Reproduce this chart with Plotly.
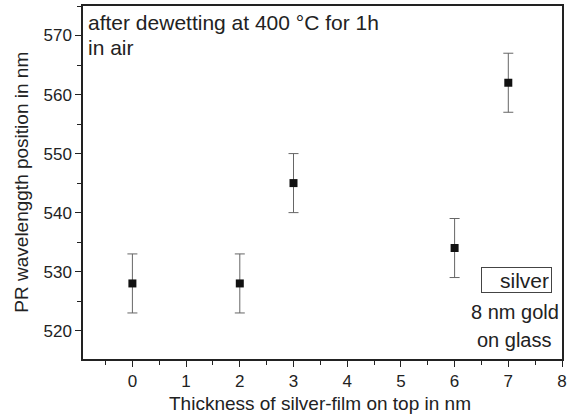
import plotly.graph_objects as go

thickness = [0, 2, 3, 6, 7]
pr_position = [528, 528, 545, 534, 562]
pr_error = [5, 5, 5, 5, 5]

x_ticks = [0, 1, 2, 3, 4, 5, 6, 7, 8]
y_ticks = [520, 530, 540, 550, 560, 570]

FONT = "Liberation Sans, Arial, sans-serif"
L, R, T, B = 83, 3, 6, 57
W, H = 570, 416
pw = W - L - R
ph = H - T - B

def px(xp):
    return (xp - L) / pw

def py(yp):
    return (H - B - yp) / ph

fig = go.Figure()
fig.add_trace(go.Scatter(
    x=thickness, y=pr_position, mode="markers",
    marker=dict(symbol="square", size=8, color="#111111"),
    error_y=dict(type="data", array=pr_error, visible=True,
                 color="#666666", thickness=1, width=5),
    showlegend=False,
))

axis_common = dict(
    showline=True, linecolor="#222222", linewidth=1.5, mirror=True,
    ticks="outside", ticklen=6, tickwidth=1.2, tickcolor="#222222",
    showgrid=False, zeroline=False,
    tickfont=dict(family=FONT, size=17, color="#222222"),
)

fig.update_xaxes(range=[-0.92, 8], tickvals=x_ticks,
                 minor=dict(ticks="outside", ticklen=4, dtick=0.5, tick0=0,
                            tickcolor="#222222", tickwidth=1.2),
                 **axis_common)
fig.update_yaxes(range=[515.2, 575.0], tickvals=y_ticks,
                 minor=dict(ticks="outside", ticklen=4, dtick=5, tick0=520,
                            tickcolor="#222222", tickwidth=1.2),
                 **axis_common)

def f(size):
    return dict(family=FONT, size=size, color="#222222")

annotations = [
    dict(text="after dewetting at 400 °C for 1h", x=px(86), y=py(22),
         xanchor="left", yanchor="middle", font=f(21)),
    dict(text="in air", x=px(86), y=py(47), xanchor="left", yanchor="middle",
         font=f(21)),
    dict(text="silver", x=px(521.5), y=py(280), xanchor="center", yanchor="middle",
         bordercolor="#444444", borderwidth=1, borderpad=2, width=65, height=20,
         align="right", font=f(21)),
    dict(text="8 nm gold", x=px(520), y=py(312), xanchor="center", yanchor="middle",
         font=f(20)),
    dict(text="on glass", x=px(519), y=py(340), xanchor="center", yanchor="middle",
         font=f(20)),
    dict(text="Thickness of silver-film on top in nm", x=px(322), y=py(403),
         xanchor="center", yanchor="middle", font=f(19)),
    dict(text="PR wavelenggth position in nm", x=px(20), y=py(182),
         xanchor="center", yanchor="middle", textangle=-90, font=f(19)),
]
for a in annotations:
    a.update(xref="paper", yref="paper", showarrow=False)

fig.update_layout(
    width=W, height=H,
    margin=dict(l=L, r=R, t=T, b=B),
    paper_bgcolor="white", plot_bgcolor="white",
    annotations=annotations,
)

fig.write_html("out.html", config={"displayModeBar": False},
               post_script="document.body.style.margin='0';")
